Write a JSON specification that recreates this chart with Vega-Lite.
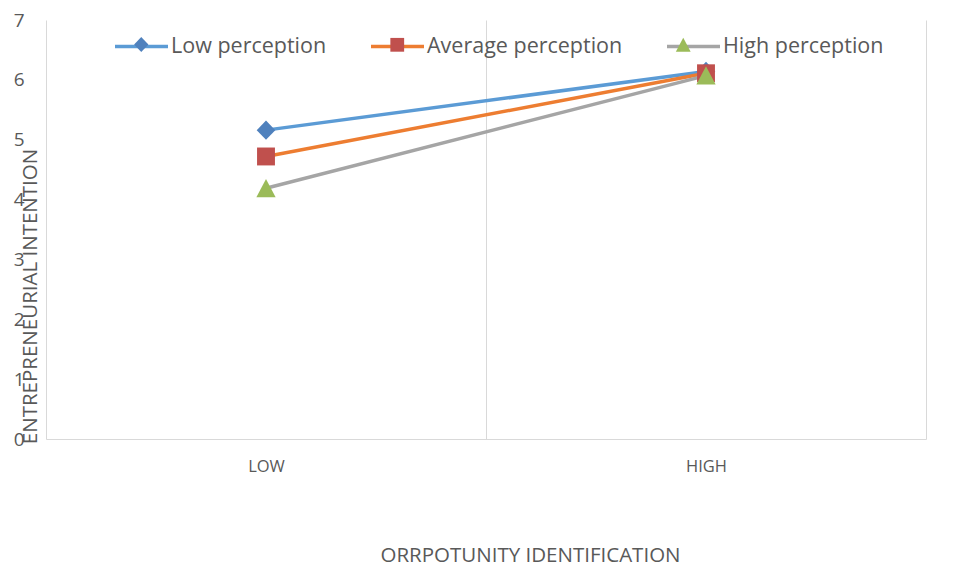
{
  "$schema": "https://vega.github.io/schema/vega-lite/v6.json",
  "autosize": "none",
  "width": 880,
  "height": 419,
  "padding": {"left": 46, "top": 20, "right": 34, "bottom": 132},
  "background": "white",
  "config": {
    "view": {"stroke": null},
    "font": "Open Sans",
    "axis": {"labelColor": "#595959", "titleColor": "#595959", "titleFontWeight": "normal"}
  },
  "data": {
    "values": [
      {"series": "Low perception", "level": "LOW", "value": 5.16},
      {"series": "Low perception", "level": "HIGH", "value": 6.14},
      {"series": "Average perception", "level": "LOW", "value": 4.72},
      {"series": "Average perception", "level": "HIGH", "value": 6.11},
      {"series": "High perception", "level": "LOW", "value": 4.19},
      {"series": "High perception", "level": "HIGH", "value": 6.07}
    ]
  },
  "encoding": {
    "x": {
      "field": "level", "type": "nominal", "sort": ["LOW", "HIGH"],
      "scale": {"type": "band", "paddingInner": 0, "paddingOuter": 0},
      "axis": {
        "title": "ORRPOTUNITY IDENTIFICATION",
        "labelAngle": 0, "labelFontSize": 16.5, "labelPadding": 19,
        "ticks": false, "tickBand": "extent",
        "grid": true, "gridColor": "#d9d9d9", "gridWidth": 1,
        "domain": true, "domainColor": "#d9d9d9", "domainWidth": 1,
        "titleFontSize": 20.5, "titleX": 484, "titleY": 116, "titleAlign": "center", "titleBaseline": "middle"
      }
    },
    "y": {
      "field": "value", "type": "quantitative",
      "scale": {"domain": [0, 7], "nice": false},
      "axis": {
        "title": "ENTREPRENEURIAL INTENTION",
        "values": [0, 1, 2, 3, 4, 5, 6, 7],
        "grid": false, "domain": false, "ticks": false,
        "labelFontSize": 19, "labelPadding": 22,
        "titleFontSize": 20.5, "titleAngle": 270, "titleX": -16, "titleY": 276,
        "titleAlign": "center", "titleBaseline": "middle"
      }
    }
  },
  "layer": [
    {
      "mark": {"type": "line", "strokeWidth": 3.5},
      "encoding": {
        "color": {
          "field": "series", "type": "nominal", "sort": ["Low perception", "Average perception", "High perception"],
          "scale": {"range": ["#5B9BD5", "#ED7D31", "#A5A5A5"]},
          "legend": {
            "title": null, "orient": "none", "legendX": 67, "legendY": -2, "direction": "horizontal",
            "padding": 0, "symbolType": "stroke", "symbolSize": 2809, "symbolStrokeWidth": 3.5,
            "labelFontSize": 21.5, "labelColor": "#595959", "labelOffset": 1, "labelLimit": 400,
            "columnPadding": 37, "zindex": 0
          }
        }
      }
    },
    {
      "mark": {"type": "point", "filled": true, "size": 4740, "opacity": 1},
      "encoding": {
        "fill": {
          "field": "series", "type": "nominal",
          "scale": {"domain": ["Low perception", "Average perception", "High perception"], "range": ["#4F81BD", "#C0504D", "#9BBB59"]},
          "legend": {
            "title": null, "orient": "none", "legendX": 68.75, "legendY": -2, "direction": "horizontal",
            "padding": 0, "symbolSize": 2809, "symbolStrokeWidth": 0, "symbolOpacity": 1,
            "labelExpr": "''", "labelFontSize": 1, "labelOffset": 0, "columnPadding": 0, "zindex": 1
          }
        },
        "shape": {
          "field": "series", "type": "nominal",
          "scale": {"domain": ["Low perception", "Average perception", "High perception"], "range": ["M-1,0M8.66,0M0,-0.28L0.27,0L0,0.28L-0.27,0Z", "M-1,0M9.755,0M-0.26,-0.26H0.26V0.26H-0.26Z", "M-1,0M0,-0.27L0.28,0.26L-0.28,0.26Z"]},
          "legend": {
            "title": null, "orient": "none", "legendX": 68.75, "legendY": -2, "direction": "horizontal",
            "padding": 0, "symbolSize": 2809, "symbolStrokeWidth": 0, "symbolOpacity": 1,
            "labelExpr": "''", "labelFontSize": 1, "labelOffset": 0, "columnPadding": 0, "zindex": 1
          }
        }
      }
    }
  ]
}
